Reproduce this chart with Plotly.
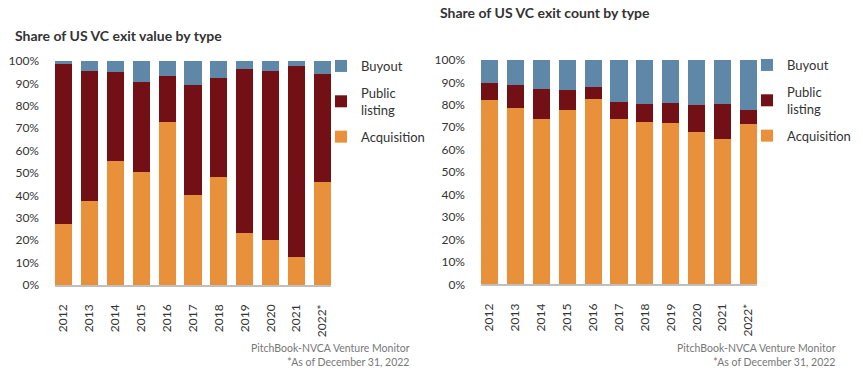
import plotly.graph_objects as go

W, H = 863, 382

years = ["2012", "2013", "2014", "2015", "2016", "2017", "2018", "2019", "2020", "2021", "2022*"]

# Share of US VC exit value by type (%)
value_acquisition = [27.2, 37.5, 55.4, 50.4, 72.8, 40.2, 48.2, 23.2, 20.1, 12.5, 46.0]
value_public = [71.6, 58.0, 39.7, 40.2, 20.5, 49.1, 44.2, 73.2, 75.4, 85.3, 48.2]
value_buyout = [1.2, 4.5, 4.9, 9.4, 6.7, 10.7, 7.6, 3.6, 4.5, 2.2, 5.8]

# Share of US VC exit count by type (%)
count_acquisition = [82.3, 78.7, 73.8, 77.8, 82.7, 73.8, 72.5, 72.1, 68.0, 64.9, 71.6]
count_public = [7.6, 10.3, 13.4, 8.9, 5.4, 7.6, 8.0, 8.9, 12.1, 15.6, 6.2]
count_buyout = [10.1, 11.0, 12.8, 13.3, 11.9, 18.6, 19.5, 19.0, 19.9, 19.5, 22.2]

series_names = ["Acquisition", "Public<br>listing", "Buyout"]
colors = ["#E9913A", "#721015", "#5E87A8"]
legend_ranks = [3, 2, 1]

FONT = "Lato"
TXT = "#333333"

fig = go.Figure()

panels = [
    ([value_acquisition, value_public, value_buyout], "x", "y", "legend"),
    ([count_acquisition, count_public, count_buyout], "x2", "y2", "legend2"),
]
for vals, xa, ya, lg in panels:
    for name, v, c, rk in zip(series_names, vals, colors, legend_ranks):
        fig.add_trace(go.Bar(
            x=years, y=v, name=name, marker=dict(color=c, line=dict(width=0)),
            xaxis=xa, yaxis=ya, legend=lg, legendgroup=name + lg, legendrank=rk,
            hoverinfo="skip",
        ))

def px_x(p):
    return p / W

def px_y(p):
    return 1 - p / H

xcommon = dict(
    type="category", range=[-0.33, 10.33], showgrid=False, zeroline=False,
    showline=True, linecolor="#BFBFBF", linewidth=1.5, ticks="",
    tickangle=-90, tickfont=dict(family=FONT, size=12, color=TXT),
    ticklabelstandoff=13, fixedrange=True, automargin=False,
)
ycommon = dict(
    range=[0, 100], dtick=10, ticksuffix="%", showgrid=False, zeroline=False,
    showline=False, ticks="", tickfont=dict(family=FONT, size=12, color=TXT),
    ticklabelstandoff=15, fixedrange=True, automargin=False,
)

legcommon = dict(
    font=dict(family=FONT, size=13, color=TXT), traceorder="grouped",
    tracegroupgap=7, itemwidth=30, bgcolor="rgba(0,0,0,0)",
    xanchor="left", yanchor="top", itemclick=False, itemdoubleclick=False,
)

fig.update_layout(
    template="none",
    width=W, height=H,
    margin=dict(l=0, r=0, t=0, b=0, autoexpand=False),
    paper_bgcolor="white", plot_bgcolor="white",
    barmode="stack", bargap=0.34,
    font=dict(family=FONT, color=TXT),
    xaxis=dict(domain=[px_x(55), px_x(331)], anchor="y", **xcommon),
    yaxis=dict(domain=[px_y(285), px_y(61)], anchor="x", **ycommon),
    xaxis2=dict(domain=[px_x(481), px_x(757)], anchor="y2", **xcommon),
    yaxis2=dict(domain=[px_y(284.3), px_y(60)], anchor="x2", **ycommon),
    legend=dict(x=px_x(321), y=px_y(51), **legcommon),
    legend2=dict(x=px_x(747), y=px_y(50), **legcommon),
    showlegend=True,
)

annotations = [
    dict(text="<b>Share of US VC exit value by type</b>", x=px_x(13), y=px_y(35),
         xanchor="left", yanchor="middle", font=dict(family=FONT, size=14, color="#333333")),
    dict(text="<b>Share of US VC exit count by type</b>", x=px_x(438), y=px_y(12),
         xanchor="left", yanchor="middle", font=dict(family=FONT, size=14, color="#333333")),
    dict(text="PitchBook-NVCA Venture Monitor<br>*As of December 31, 2022", x=px_x(412), y=px_y(340),
         xanchor="right", yanchor="top", align="right",
         font=dict(family=FONT, size=10.5, color="#777777")),
    dict(text="PitchBook-NVCA Venture Monitor<br>*As of December 31, 2022", x=px_x(838), y=px_y(340),
         xanchor="right", yanchor="top", align="right",
         font=dict(family=FONT, size=10.5, color="#777777")),
]
for a in annotations:
    a.update(xref="paper", yref="paper", showarrow=False)
fig.update_layout(annotations=annotations)

css_fix = (
    "var s='margin:0;padding:0;overflow:hidden;height:382px;width:863px';"
    "document.documentElement.style.cssText=s;document.body.style.cssText=s;"
)
fig.write_html("out.html", config={"displayModeBar": False, "staticPlot": True}, post_script=css_fix)
